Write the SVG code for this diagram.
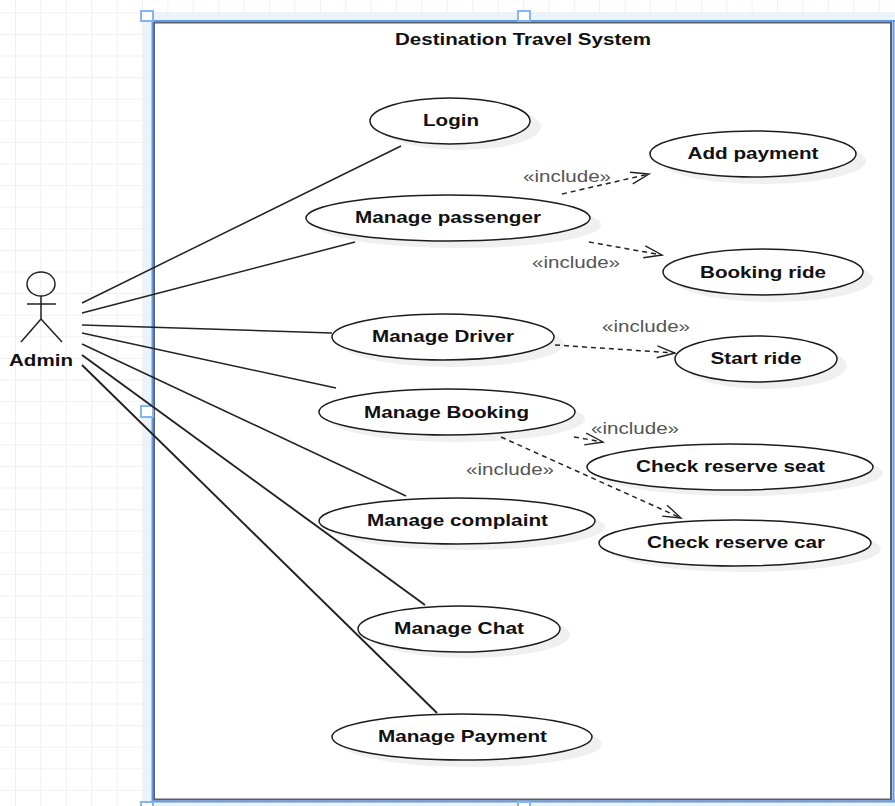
<svg xmlns="http://www.w3.org/2000/svg" width="895" height="806" viewBox="0 0 895 806">
<defs>
<pattern id="grid" width="25.4" height="21.6" patternUnits="userSpaceOnUse" x="15" y="12.300">
<path d="M0 0V21.6M0 0H25.4" fill="none" stroke="#f0f0f3" stroke-width="2"/>
</pattern>
<marker id="open" markerUnits="userSpaceOnUse" markerWidth="22" markerHeight="16" refX="19" refY="8" orient="auto">
<path d="M1 2 L19 8 L1 14" fill="none" stroke="#222" stroke-width="1.400"/>
</marker>
</defs>
<style>
.uc{fill:#fff;stroke:#1c1c1c;stroke-width:1.5}
.sh{fill:#f0f0f0}
.t{font:bold 17px "Liberation Sans",Arial,sans-serif;fill:#111;text-anchor:middle}
.inc{font:17px "Liberation Sans",Arial,sans-serif;fill:#555;text-anchor:middle}
.assoc{stroke:#222;stroke-width:1.5;fill:none}
.heavy{stroke-width:1.9}
.dep{stroke:#222;stroke-width:1.5;fill:none;stroke-dasharray:5 4;marker-end:url(#open)}
.sel{fill:#ebf3fd}
.hd{fill:#fff;stroke:#85b4f5;stroke-width:2}
</style>
<rect width="895" height="806" fill="#fff"/>
<g id="selection">
<rect class="sel" x="142" y="12" width="753" height="794"/>
</g>
<rect width="895" height="806" fill="url(#grid)"/>
<g id="system">
<rect x="154" y="22.500" width="737" height="777" fill="#fff" stroke="#5a5f66" stroke-width="2"/>
<path d="M152.500 21V802M152 21H895M893.500 21V802M152 801.500H895" stroke="#5f9bec" stroke-width="2" fill="none"/>
<rect class="hd" x="141" y="11" width="12" height="10"/>
<rect class="hd" x="518" y="11" width="12" height="10"/>
<rect class="hd" x="141" y="406" width="12" height="11"/>
<rect class="hd" x="141" y="802" width="12" height="8"/>
<rect class="hd" x="518" y="802" width="12" height="8"/>
<text x="523" y="45" class="t" textLength="256" lengthAdjust="spacingAndGlyphs">Destination Travel System</text>
</g>
<g id="admin">
<ellipse cx="41" cy="284" rx="14" ry="12" fill="none" stroke="#222" stroke-width="1.500"/>
<path d="M41 296V319M27 304H56M41 319L21 342M41 319L62 342" fill="none" stroke="#222" stroke-width="1.500"/>
<text x="41" y="366" class="t" textLength="64" lengthAdjust="spacingAndGlyphs">Admin</text>
</g>
<g id="login"><ellipse class="sh" cx="461" cy="127" rx="80" ry="23"/><ellipse class="uc" cx="450" cy="121" rx="80" ry="23"/><text x="451" y="126" class="t" textLength="56" lengthAdjust="spacingAndGlyphs">Login</text></g>
<g id="add-payment"><ellipse class="sh" cx="763" cy="161" rx="103" ry="23"/><ellipse class="uc" cx="753" cy="154" rx="103" ry="23"/><text x="753" y="159" class="t" textLength="131" lengthAdjust="spacingAndGlyphs">Add payment</text></g>
<g id="manage-passenger"><ellipse class="sh" cx="459" cy="225" rx="142" ry="23"/><ellipse class="uc" cx="448" cy="218" rx="142" ry="23"/><text x="448" y="223" class="t" textLength="186" lengthAdjust="spacingAndGlyphs">Manage passenger</text></g>
<g id="booking-ride"><ellipse class="sh" cx="773" cy="279" rx="100" ry="23"/><ellipse class="uc" cx="763" cy="272" rx="100" ry="23"/><text x="763" y="277.500" class="t" textLength="126" lengthAdjust="spacingAndGlyphs">Booking ride</text></g>
<g id="manage-driver"><ellipse class="sh" cx="453" cy="344" rx="111" ry="23"/><ellipse class="uc" cx="443" cy="337" rx="111" ry="23"/><text x="443" y="342" class="t" textLength="142" lengthAdjust="spacingAndGlyphs">Manage Driver</text></g>
<g id="start-ride"><ellipse class="sh" cx="766" cy="366" rx="81" ry="23"/><ellipse class="uc" cx="756" cy="359" rx="81" ry="23"/><text x="756" y="364" class="t" textLength="91" lengthAdjust="spacingAndGlyphs">Start ride</text></g>
<g id="manage-booking"><ellipse class="sh" cx="457" cy="419" rx="128" ry="23"/><ellipse class="uc" cx="447" cy="412" rx="128" ry="23"/><text x="446.500" y="418" class="t" textLength="165" lengthAdjust="spacingAndGlyphs">Manage Booking</text></g>
<g id="check-reserve-seat"><ellipse class="sh" cx="740" cy="473" rx="143" ry="23"/><ellipse class="uc" cx="730" cy="467" rx="143" ry="23"/><text x="730.500" y="471.500" class="t" textLength="189" lengthAdjust="spacingAndGlyphs">Check reserve seat</text></g>
<g id="manage-complaint"><ellipse class="sh" cx="467" cy="527" rx="138" ry="23"/><ellipse class="uc" cx="457" cy="521" rx="138" ry="23"/><text x="457.500" y="525.500" class="t" textLength="181" lengthAdjust="spacingAndGlyphs">Manage complaint</text></g>
<g id="check-reserve-car"><ellipse class="sh" cx="745" cy="549" rx="136" ry="23"/><ellipse class="uc" cx="735" cy="543" rx="136" ry="23"/><text x="736" y="547.500" class="t" textLength="178" lengthAdjust="spacingAndGlyphs">Check reserve car</text></g>
<g id="manage-chat"><ellipse class="sh" cx="469" cy="635" rx="101" ry="23"/><ellipse class="uc" cx="459" cy="629" rx="101" ry="23"/><text x="459" y="634" class="t" textLength="130" lengthAdjust="spacingAndGlyphs">Manage Chat</text></g>
<g id="manage-payment"><ellipse class="sh" cx="472" cy="744" rx="130" ry="23"/><ellipse class="uc" cx="462" cy="737" rx="130" ry="23"/><text x="462.500" y="742" class="t" textLength="169" lengthAdjust="spacingAndGlyphs">Manage Payment</text></g>
<g id="connectors">
<path class="assoc" d="M82 303L401 146"/>
<path class="assoc" d="M82 313L355 242"/>
<path class="assoc" d="M82 325L332 333"/>
<path class="assoc" d="M82 333L336 388"/>
<path class="assoc" d="M82 344L406 496"/>
<path class="assoc heavy" d="M82 355L425 605"/>
<path class="assoc heavy" d="M82 365L437 713"/>
<path class="dep" d="M562 194L649 174"/>
<path class="dep" d="M589 242L662 255"/>
<path class="dep" d="M555 345L675 353"/>
<path class="dep" d="M574 437L603 442"/>
<path class="dep" d="M501 437L681 518"/>
</g>
<g id="labels">
<text x="567" y="182" class="inc" textLength="88" lengthAdjust="spacingAndGlyphs">«include»</text>
<text x="576" y="268" class="inc" textLength="88" lengthAdjust="spacingAndGlyphs">«include»</text>
<text x="646" y="332" class="inc" textLength="88" lengthAdjust="spacingAndGlyphs">«include»</text>
<text x="635" y="434" class="inc" textLength="88" lengthAdjust="spacingAndGlyphs">«include»</text>
<text x="510" y="475" class="inc" textLength="88" lengthAdjust="spacingAndGlyphs">«include»</text>
</g>
</svg>
